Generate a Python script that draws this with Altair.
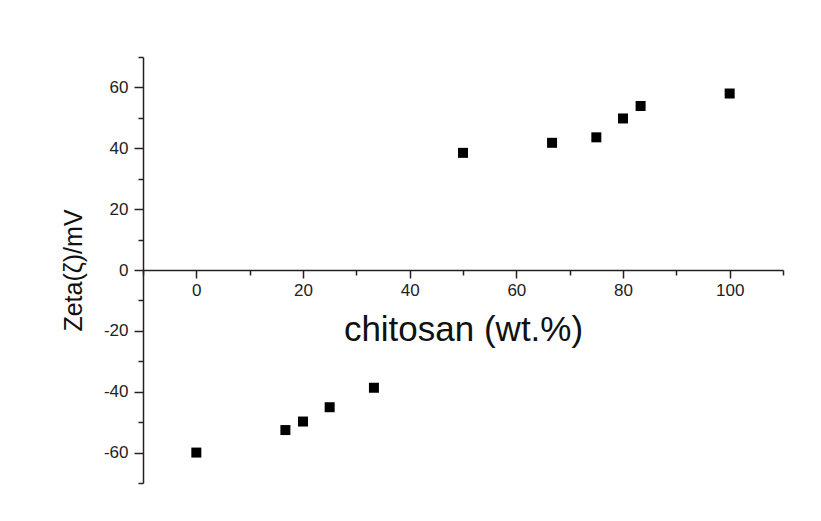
import altair as alt
import pandas as pd

chitosan = [0, 16.7, 20, 25, 33.3, 50, 66.7, 75, 80, 83.3, 100]
zeta = [-60, -52.6, -49.8, -45.1, -38.7, 38.5, 41.8, 43.6, 49.8, 53.9, 58.0]

x_ticks = list(range(-10, 111, 10))
y_ticks = list(range(-70, 71, 10))

df = pd.DataFrame({"chitosan": chitosan, "zeta": zeta})

font = "Liberation Sans"

chart = alt.Chart(df).mark_square(size=100, color="black", opacity=1).encode(
    x=alt.X(
        "chitosan:Q",
        scale=alt.Scale(domain=[-10, 110], nice=False, zero=False),
        axis=alt.Axis(
            title="chitosan (wt.%)",
            orient="bottom",
            offset=-213,
            values=x_ticks,
            labelExpr="datum.value % 20 === 0 && datum.value >= 0 && datum.value <= 100 ? '' + datum.value : ''",
            tickSize={"condition": {"test": "datum.value % 20 === 0", "value": 8}, "value": 5},
            tickColor="#222222",
            tickWidth=1.5,
            domainColor="#222222",
            domainWidth=1.5,
            labelFont=font,
            labelFontSize=17,
            labelColor="#222222",
            labelPadding=4,
            titleFont=font,
            titleFontSize=35,
            titleFontWeight="normal",
            titleColor="#111111",
            titleBaseline="alphabetic",
            titleY=70,
            grid=False,
            labelFlush=False,
        ),
    ),
    y=alt.Y(
        "zeta:Q",
        scale=alt.Scale(domain=[-70, 70], nice=False, zero=False),
        axis=alt.Axis(
            title="Zeta(ζ)/mV",
            values=y_ticks,
            labelExpr="datum.value % 20 === 0 ? '' + datum.value : ''",
            tickSize={"condition": {"test": "datum.value % 20 === 0", "value": 9}, "value": 5},
            tickColor="#222222",
            tickWidth=1.5,
            domainColor="#222222",
            domainWidth=1.5,
            labelFont=font,
            labelFontSize=17,
            labelColor="#222222",
            labelPadding=6,
            titleFont=font,
            titleFontSize=25,
            titleFontWeight="normal",
            titleColor="#111111",
            titleBaseline="alphabetic",
            titleAngle=-90,
            titleX=-62,
            titleY=213,
            grid=False,
            labelFlush=False,
        ),
    ),
).properties(
    width=640,
    height=426,
    background="white",
    autosize=alt.AutoSizeParams(type="none"),
    padding={"left": 135, "top": 49, "right": 30, "bottom": 30},
).configure_view(stroke=None)

chart.save("out.html", embed_options={"renderer": "svg", "actions": False})
